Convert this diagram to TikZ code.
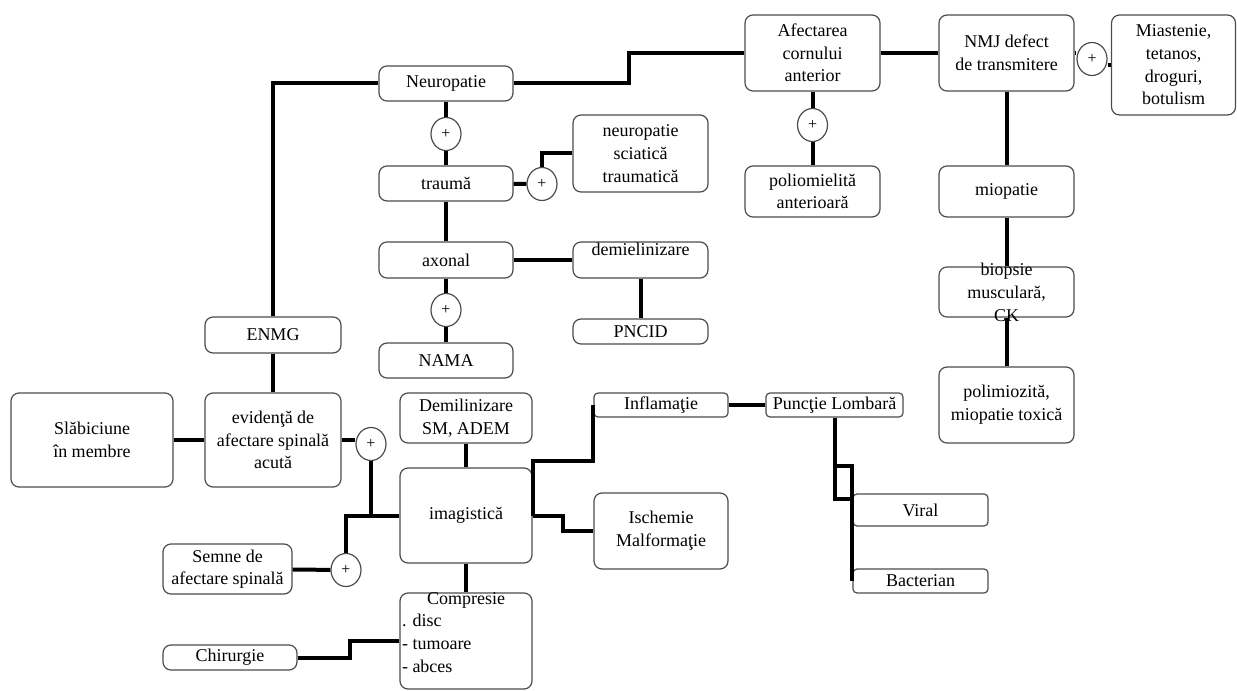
\documentclass[tikz,border=0pt]{standalone}
\usepackage{fontspec}
\setmainfont{Liberation Serif}
\usetikzlibrary{calc,shapes.geometric}
\def\pix{0.75pt}

\begin{document}
\begin{tikzpicture}[x=0.75pt,y=-0.75pt]
  \tikzset{every node/.style={font=\fontsize{13.5}{17}\selectfont,align=center,inner sep=1pt},
    box/.style={draw=black!70,line width=0.9pt,rounded corners=6pt,minimum width=134*\pix},
    slim/.style={box,rounded corners=3pt},
    plus/.style={draw=black!70,line width=0.9pt,ellipse,minimum width=30*\pix,minimum height=33*\pix,inner sep=0pt,font=\fontsize{12}{14}\selectfont},
    link/.style={line width=3pt}};
  \useasboundingbox (0,0) rectangle (1237,691);
  \node[box,minimum width=162*\pix,minimum height=94*\pix] (slab) at (92,440) {Slăbiciune\\în membre};
  \node[box,minimum width=136*\pix,minimum height=94*\pix] (evid) at (273,440) {evidenţă de\\afectare spinală\\acută};
  \node[box,minimum width=136*\pix,minimum height=36*\pix] (enmg) at (273,335) {ENMG};
  \node[box,minimum height=35*\pix] (neuro) at (446,83.5) {Neuropatie};
  \node[plus] (p1) at (446,134) {+};
  \node[box,minimum height=35*\pix] (trauma) at (446,183.5) {traumă};
  \node[plus] (p2) at (542,184) {+};
  \node[box,minimum width=135*\pix,minimum height=77*\pix] (sciat) at (640.5,153.5) {neuropatie\\sciatică\\traumatică};
  \node[box,minimum height=36*\pix] (axonal) at (446,260) {axonal};
  \node[box,minimum width=135*\pix,minimum height=36*\pix] (demiel) at (640.5,260) {\smash{\raisebox{3pt}{demielinizare}}};
  \node[plus] (p3) at (446,310) {+};
  \node[box,minimum height=35*\pix] (nama) at (446,360.5) {NAMA};
  \node[box,minimum width=135*\pix,minimum height=25*\pix] (pncid) at (640.5,331.5) {PNCID};
  \node[box,minimum width=135*\pix,minimum height=76*\pix] (afect) at (812.5,53) {Afectarea\\cornului\\anterior};
  \node[plus] (p4) at (812.5,125) {+};
  \node[box,minimum width=135*\pix,minimum height=51*\pix] (polio) at (812.5,191.5) {poliomielită\\anterioară};
  \node[box,minimum width=135*\pix,minimum height=76*\pix] (nmj) at (1006.5,53) {NMJ defect\\de transmitere};
  \node[plus] (p5) at (1092,59) {+};
  \node[box,minimum width=124*\pix,minimum height=100*\pix] (miast) at (1173.5,65) {Miastenie,\\tetanos,\\droguri,\\botulism};
  \node[box,minimum width=135*\pix,minimum height=51*\pix] (miop) at (1006.5,191.5) {miopatie};
  \node[box,minimum width=135*\pix,minimum height=50*\pix] (biops) at (1006.5,292) {\smash{\raisebox{-5pt}{\begin{tabular}{@{}c@{}}biopsie\\musculară,\\CK\end{tabular}}}};
  \node[box,minimum width=135*\pix,minimum height=76*\pix] (polim) at (1006.5,405) {polimiozită,\\miopatie toxică};
  \node[box,minimum width=132*\pix,minimum height=50*\pix] (demil) at (466,418) {Demilinizare\\SM, ADEM};
  \node[box,minimum width=132*\pix,minimum height=95*\pix] (imag) at (466,515.5) {imagistică};
  \node[box,minimum width=132*\pix,minimum height=96*\pix] (compr) at (466,641) {\smash{\raisebox{2pt}{\begin{tabular}{@{}p{96pt}@{}}\multicolumn{1}{@{}c@{}}{Compresie}\\. disc\\- tumoare\\- abces\end{tabular}}}};
  \node[box,minimum width=129*\pix,minimum height=50*\pix] (semne) at (227.5,569) {Semne de\\afectare spinală};
  \node[box,minimum width=134*\pix,minimum height=25*\pix] (chir) at (230,657.5) {Chirurgie};
  \node[plus] (p6) at (371,444) {+};
  \node[plus] (p7) at (346,570) {+};
  \node[slim,minimum height=24*\pix] (infl) at (661,405) {Inflamaţie};
  \node[slim,minimum width=137*\pix,minimum height=24*\pix] (punct) at (834.5,405) {Puncţie Lombară};
  \node[box,minimum height=76*\pix] (isch) at (661,531) {Ischemie\\Malformaţie};
  \node[slim,minimum width=135*\pix,minimum height=32*\pix] (viral) at (920.5,510) {Viral};
  \node[slim,minimum width=135*\pix,minimum height=24*\pix] (bact) at (920.5,581) {Bacterian};
  \draw[link] (slab) -- (evid);
  \draw[link] (evid) -- (enmg);
  \draw[link] (enmg.north) |- (neuro.west);
  \draw[link] (neuro) -- (p1) -- (trauma);
  \draw[link] (trauma) -- (axonal);
  \draw[link] (axonal) -- (p3) -- (nama);
  \draw[link] (trauma) -- (p2);
  \draw[link] (p2.north) |- (sciat.west);
  \draw[link] (axonal) -- (demiel);
  \draw[link] (demiel) -- (pncid);
  \draw[link] (neuro.east) -- ++(115,0) |- (afect.west);
  \draw[link] (afect) -- (p4) -- (polio);
  \draw[link] (afect) -- (nmj);
  \draw[link] (nmj.east) -- (nmj.east -| p5.west);
  \draw[link] (p5.east |- miast.west) -- (miast.west);
  \draw[link] (nmj) -- (miop);
  \draw[link] (miop) -- (biops);
  \draw[link] (biops) -- (polim);
  \draw[link] (evid.east) -- (evid.east -| p6.west);
  \draw[link] (p6.south) |- (imag.west);
  \draw[link] (p7.north) |- (imag.west);
  \draw[link] (semne) -- (p7);
  \draw[link] (demil) -- (imag);
  \draw[link] (imag) -- (compr);
  \draw[link] (chir.east) -- ++(52,0) |- (compr.west);
  \draw[link] (imag.east) -- ++(0,-55) -| (infl.west);
  \draw[link] (imag.east) -- ++(30,0) |- (isch.west);
  \draw[link] (infl) -- (punct);
  \draw[link] (punct.south) -- ++(0,81) -| (viral.west);
  \draw[link] (punct.south) -- ++(0,48) -| (bact.west);
\end{tikzpicture}
\end{document}
